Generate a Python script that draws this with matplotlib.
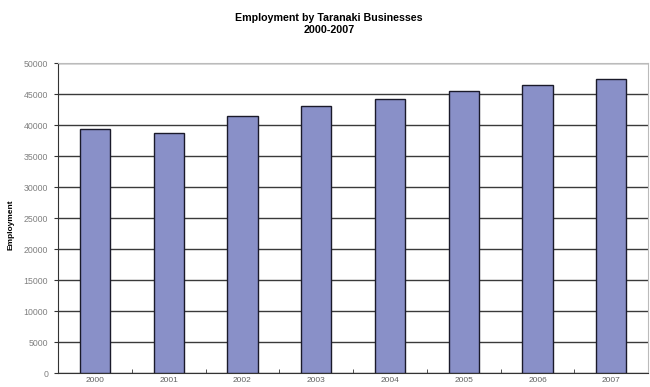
import numpy as np
import matplotlib.pyplot as plt

plt.rcParams['font.family'] = ['Liberation Sans', 'DejaVu Sans']

years = ['2000', '2001', '2002', '2003', '2004', '2005', '2006', '2007']
employment = [39300, 38800, 41450, 43050, 44150, 45450, 46500, 47400]
yticks = [0, 5000, 10000, 15000, 20000, 25000, 30000, 35000, 40000, 45000, 50000]

fig = plt.figure(figsize=(6.5, 3.87), dpi=100)
ax = fig.add_axes([0.0892, 0.036, 0.908, 0.801])

x = np.arange(len(years))
ax.bar(x, employment, width=0.41, color='#8990c8', edgecolor='#1a1a2a',
       linewidth=1.0, zorder=3)

ax.set_xlim(-0.5, len(years) - 0.5)
ax.set_ylim(0, 50000)
ax.set_yticks(yticks)
ax.set_yticklabels([str(v) for v in yticks], fontsize=6.3, color='#808080')
ax.yaxis.grid(True, color='#3a3a3a', linewidth=1.0, zorder=1)
ax.set_axisbelow(True)

# category labels centred on bars, tick marks between categories
ax.set_xticks(x)
ax.set_xticklabels(years, fontsize=6, color='#606060')
ax.tick_params(axis='x', length=0, pad=3)
ax.set_xticks(np.arange(-0.5, len(years)), minor=True)
ax.tick_params(axis='x', which='minor', length=3, direction='in', color='#333333')
ax.tick_params(axis='y', length=3, color='#333333', pad=4)

for side in ['top', 'right']:
    ax.spines[side].set_color('#bbbbbb')
ax.spines['left'].set_color('#333333')
ax.spines['bottom'].set_color('#333333')

ax.set_ylabel('Employment', fontsize=6, fontweight='bold')
ax.yaxis.set_label_coords(-0.073, 0.48)

fig.text(0.506, 0.966, 'Employment by Taranaki Businesses\n2000-2007',
         ha='center', va='top', fontsize=7.7, fontweight='bold',
         linespacing=1.25)

fig.savefig('out.png', dpi=100)
